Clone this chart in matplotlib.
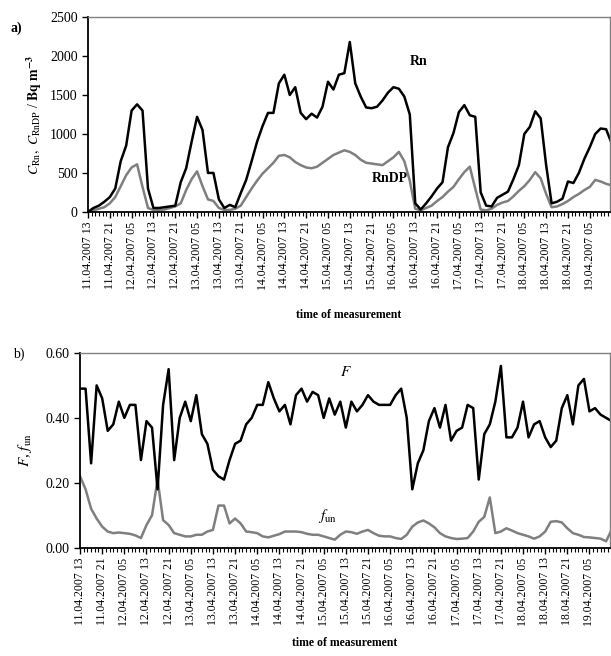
import matplotlib
matplotlib.use("Agg")
import matplotlib.pyplot as plt
import matplotlib.dates as mdates
import numpy as np
import pandas as pd

# czas pomiaru: co 2 h od 11.04.2007 13:00
czas = pd.date_range("2007-04-11 13:00", periods=97, freq="2h")

rn = [0, 50, 80, 130, 190, 300, 650, 850, 1300, 1380, 1300, 300, 50, 50, 60, 70,
      80, 380, 560, 900, 1220, 1050, 500, 500, 160, 50, 90, 60, 240, 410, 650, 900,
      1100, 1270, 1270, 1650, 1760, 1500, 1600, 1270, 1190, 1260, 1210, 1350, 1670,
      1570, 1760, 1780, 2180, 1650, 1480, 1340, 1330, 1350, 1430, 1530, 1600, 1580,
      1480, 1250, 110, 30, 110, 200, 300, 380, 830, 1010, 1280, 1370, 1240, 1220,
      250, 80, 70, 180, 220, 260, 420, 600, 1000, 1090, 1290, 1200, 600, 110, 130,
      170, 390, 370, 500, 680, 830, 1000, 1070, 1060, 880]

rndp = [0, 20, 40, 60, 110, 190, 330, 470, 570, 610, 320, 50, 25, 25, 30, 50, 70,
        110, 280, 420, 520, 330, 160, 140, 50, 25, 25, 40, 80, 190, 300, 400, 490,
        560, 630, 720, 730, 700, 640, 600, 570, 560, 580, 630, 680, 730, 760, 790,
        770, 730, 670, 630, 620, 610, 600, 650, 700, 770, 650, 400, 40, 20, 50, 80,
        140, 190, 260, 320, 420, 510, 580, 300, 30, 20, 40, 90, 120, 140, 200, 270,
        330, 410, 510, 430, 230, 60, 70, 100, 140, 190, 230, 280, 320, 410, 390, 360,
        340]

F = [0.49, 0.49, 0.26, 0.50, 0.46, 0.36, 0.38, 0.45, 0.40, 0.44, 0.44, 0.27, 0.39,
     0.37, 0.18, 0.44, 0.55, 0.27, 0.40, 0.45, 0.39, 0.47, 0.35, 0.32, 0.24, 0.22,
     0.21, 0.27, 0.32, 0.33, 0.38, 0.40, 0.44, 0.44, 0.51, 0.46, 0.42, 0.44, 0.38,
     0.47, 0.49, 0.45, 0.48, 0.47, 0.40, 0.46, 0.41, 0.45, 0.37, 0.45, 0.42, 0.44,
     0.47, 0.45, 0.44, 0.44, 0.44, 0.47, 0.49, 0.40, 0.18, 0.26, 0.30, 0.39, 0.43,
     0.37, 0.44, 0.33, 0.36, 0.37, 0.44, 0.43, 0.21, 0.35, 0.38, 0.45, 0.56, 0.34,
     0.34, 0.37, 0.45, 0.34, 0.38, 0.39, 0.34, 0.31, 0.33, 0.43, 0.47, 0.38, 0.50,
     0.52, 0.42, 0.43, 0.41, 0.40, 0.39]

f_un = [0.22, 0.18, 0.12, 0.09, 0.065, 0.05, 0.045, 0.047, 0.045, 0.043, 0.038,
        0.03, 0.07, 0.10, 0.21, 0.085, 0.07, 0.045, 0.04, 0.035, 0.035, 0.04, 0.04,
        0.05, 0.055, 0.13, 0.13, 0.075, 0.09, 0.075, 0.05, 0.048, 0.045, 0.035,
        0.032, 0.037, 0.042, 0.05, 0.05, 0.05, 0.048, 0.043, 0.04, 0.04, 0.035,
        0.03, 0.025, 0.04, 0.05, 0.048, 0.043, 0.05, 0.055, 0.045, 0.037, 0.035,
        0.035, 0.03, 0.027, 0.04, 0.065, 0.078, 0.084, 0.075, 0.063, 0.045, 0.035,
        0.03, 0.027, 0.028, 0.03, 0.05, 0.08, 0.095, 0.155, 0.045, 0.05, 0.06,
        0.053, 0.045, 0.04, 0.035, 0.028, 0.035, 0.05, 0.08, 0.082, 0.078, 0.06,
        0.045, 0.04, 0.033, 0.032, 0.03, 0.028, 0.02, 0.055]

plt.rcParams["font.family"] = ["Liberation Serif", "DejaVu Serif"]
plt.rcParams["mathtext.fontset"] = "stix"

CZARNY = "black"
SZARY = "#7f7f7f"

fig = plt.figure(figsize=(6.11, 6.56), dpi=100)
ax1 = fig.add_axes([0.144, 0.677, 0.854, 0.297])
ax2 = fig.add_axes([0.131, 0.165, 0.867, 0.297])

koniec = czas[-1] - pd.Timedelta(minutes=40)


def os_czasu(ax, odstep=14):
    ax.set_xlim(czas[0], koniec)
    ax.xaxis.set_major_locator(mdates.HourLocator(byhour=[5, 13, 21]))
    ax.xaxis.set_major_formatter(mdates.DateFormatter("%d.%m.%Y %H"))
    drobne = pd.date_range(czas[0], koniec, freq="80min")
    ax.xaxis.set_minor_locator(matplotlib.ticker.FixedLocator(mdates.date2num(drobne)))
    ax.tick_params(axis="x", which="major", rotation=90, labelsize=8.5,
                   length=4, width=1, direction="out", pad=3)
    ax.tick_params(axis="x", which="minor", length=3, width=0.8, direction="out")
    ax.tick_params(axis="y", labelsize=10, length=4, width=1, direction="out")
    for s in ("left", "bottom"):
        ax.spines[s].set_linewidth(1.3)
    for s in ("top", "right"):
        ax.spines[s].set_color("#808080")
        ax.spines[s].set_linewidth(1.0)
    ax.set_xlabel("time of measurement", fontsize=8.5, fontweight="bold",
                  labelpad=odstep)


# a) stężenia radonu
ax1.plot(czas, rndp, color=SZARY, lw=1.8)
ax1.plot(czas, rn, color=CZARNY, lw=1.8)
ax1.set_ylim(0, 2500)
ax1.set_yticks(np.arange(0, 2501, 500))
os_czasu(ax1)
ax1.set_ylabel(r"$C_{\mathrm{Rn}},\ C_{\mathrm{RnDP}}$ / $\mathbf{Bq\ m^{-3}}$",
               fontsize=10, labelpad=4)
ax1.text(czas[59], 1880, "Rn", fontsize=10, fontweight="bold")
ax1.text(czas[52], 380, "RnDP", fontsize=10, fontweight="bold")
fig.text(0.018, 0.952, "a)", fontsize=10, fontweight="bold")

# b) frakcje
ax2.plot(czas, f_un, color=SZARY, lw=1.8)
ax2.plot(czas, F, color=CZARNY, lw=1.8)
ax2.set_ylim(0, 0.6)
ax2.set_yticks(np.arange(0, 0.61, 0.2))
ax2.yaxis.set_major_formatter(matplotlib.ticker.FormatStrFormatter("%.2f"))
os_czasu(ax2, odstep=8)
ax2.set_ylabel(r"$F$, $f_{\mathrm{un}}$", fontsize=11, labelpad=8)
ax2.text(czas[47], 0.53, r"$F$", fontsize=11)
ax2.text(czas[43], 0.085, r"$f_{\mathrm{un}}$", fontsize=11)
fig.text(0.022, 0.455, "b)", fontsize=10)

fig.savefig("out.png", dpi=100)
